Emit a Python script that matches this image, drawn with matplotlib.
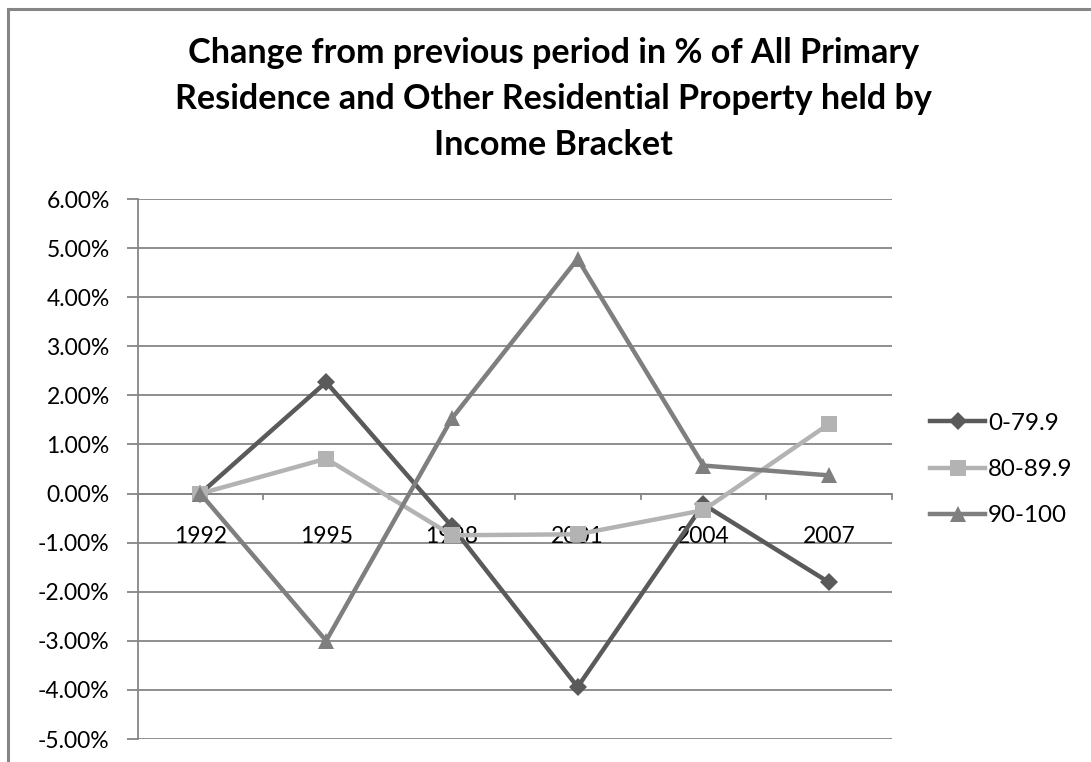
import matplotlib
matplotlib.use("Agg")
import matplotlib.pyplot as plt
from matplotlib.patches import Rectangle

years = ["1992", "1995", "1998", "2001", "2004", "2007"]
s_0_79 = [0.00, 2.27, -0.67, -3.94, -0.22, -1.81]
s_80_89 = [0.00, 0.71, -0.85, -0.83, -0.34, 1.42]
s_90_100 = [0.00, -3.00, 1.53, 4.78, 0.57, 0.37]
series_names = ["0-79.9", "80-89.9", "90-100"]
y_ticks = [-5, -4, -3, -2, -1, 0, 1, 2, 3, 4, 5, 6]
title_lines = ["Change from previous period in % of All Primary",
               "Residence and Other Residential Property held by",
               "Income Bracket"]

FONT = ["Lato", "DejaVu Sans"]
plt.rcParams['font.family'] = FONT

W, H = 1091, 762
fig = plt.figure(figsize=(W / 100, H / 100), dpi=100)
renderer = fig.canvas.get_renderer()


def fx(px):
    return px / W


def fy(py):
    return 1 - py / H


def size_for(text, target_px, weight="normal"):
    t = fig.text(0, 0, text, fontsize=10, fontweight=weight)
    w = t.get_window_extent(renderer).width
    t.remove()
    return 10 * target_px / w


# font sizes fitted to the reference text widths
title_fs = (size_for(title_lines[0], 740, "bold") + size_for(title_lines[1], 765, "bold")
            + size_for(title_lines[2], 237, "bold")) / 3
tick_fs = (size_for("6.00%", 65) + size_for("1992", 52)) / 2
leg_fs = size_for("80-89.9", 84)

# chart outer border (cropped on right and bottom)
fig.patches.append(Rectangle((fx(8), fy(800)), fx(1200) - fx(8), fy(9) - fy(800),
                             transform=fig.transFigure, fill=False,
                             edgecolor="#868686", linewidth=2.2))

ax = fig.add_axes([fx(137.5), fy(739), fx(892) - fx(137.5), fy(199) - fy(739)])

x = list(range(len(years)))
colors = ["#5a5a5a", "#b3b3b3", "#7f7f7f"]
markers = ["D", "s", "^"]
msizes = [9.5, 11, 12]
data = [s_0_79, s_80_89, s_90_100]

handles = []
for vals, c, m, ms, name in zip(data, colors, markers, msizes, series_names):
    ln, = ax.plot(x, vals, color=c, linewidth=3.2, marker=m, markersize=ms,
                  markeredgewidth=0, label=name, zorder=3)
    handles.append(ln)

ax.set_xlim(-0.5, len(years) - 0.5)
ax.set_ylim(-5, 6)
ax.set_yticks(y_ticks)
ax.set_yticklabels([f"{v:.2f}%" for v in y_ticks])
ax.yaxis.grid(True, color="#868686", linewidth=1.3)
ax.set_axisbelow(True)

for sp in ["top", "right", "bottom"]:
    ax.spines[sp].set_visible(False)
ax.spines["left"].set_color("#868686")
ax.spines["left"].set_linewidth(1.3)

# category axis crossing at zero, ticks on category boundaries
ax.axhline(0, color="#868686", linewidth=1.3, zorder=2)
ax.set_xticks([])
for b in range(len(years) + 1):
    ax.plot([b - 0.5, b - 0.5], [0, -0.12], color="#868686", linewidth=1.3,
            zorder=2, clip_on=False)
for i, yr in enumerate(years):
    ax.text(i, -0.88, yr, ha="center", va="center", fontsize=tick_fs,
            color="black", zorder=1)

ax.tick_params(axis="y", length=8, width=1.3, color="#868686", labelsize=tick_fs,
               pad=12, labelcolor="black")

# title
for i, line in enumerate(title_lines):
    fig.text(fx(553.5), fy([63, 109, 155][i]), line, ha="center", va="baseline",
             fontsize=title_fs, fontweight="bold", color="black")

fpx = leg_fs * 100 / 72
leg = fig.legend(handles=handles, labels=series_names, loc="center left",
                 bbox_to_anchor=(fx(930), fy(469.5)), frameon=False,
                 fontsize=leg_fs, handlelength=55 / fpx, handletextpad=3 / fpx,
                 labelspacing=1.05, borderpad=0, borderaxespad=0)

fig.savefig("out.png", dpi=100)
